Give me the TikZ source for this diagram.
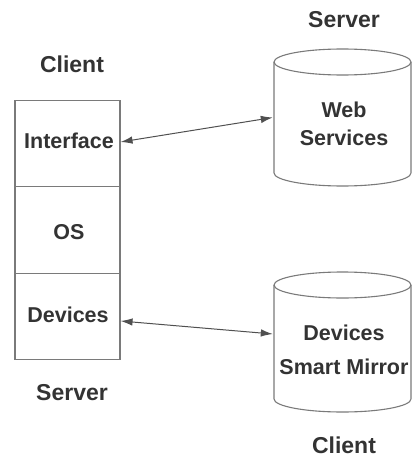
\documentclass[tikz,border=0pt]{standalone}
\usepackage{fontspec}
\setmainfont{Liberation Sans}
\usetikzlibrary{arrows.meta}
\definecolor{txt}{HTML}{333333}
\definecolor{edge}{HTML}{7A7A7A}
\definecolor{conn}{HTML}{505050}
\begin{document}
\begin{tikzpicture}[x=1pt,y=-1pt,
  layer/.style={draw=edge, line width=1.1pt, minimum width=105pt, minimum height=86.5pt, inner sep=0pt},
  body/.style={font=\fontsize{21.5}{25}\selectfont\bfseries, text=txt, inner sep=0pt},
  head/.style={font=\fontsize{23}{27}\selectfont\bfseries, text=txt, inner sep=0pt},
  cylbox/.style={minimum width=137pt, minimum height=137pt, inner sep=0pt},
  cyl/.style={draw=edge, line width=1.1pt},
  link/.style={draw=conn, line width=1pt, {Latex[length=12pt,width=7.5pt]}-{Latex[length=12pt,width=7.5pt]}}]
\useasboundingbox (0,0) rectangle (412,460);
% left stack
\node[layer] (iface) at (67.5,143.5) {};
\node[layer] (os) at (67.5,230) {};
\node[layer] (dev) at (67.5,316.5) {};
\node[body] (tiface) at (69,141) {Interface};
\node[body] (tos) at (69,232) {OS};
\node[body] (tdev) at (68,315) {Devices};
\node[head] (hclient) at (72,64) {Client};
\node[head] (hserver) at (72,393) {Server};
% top cylinder
\draw[cyl] (342.5,62) ellipse [x radius=68.5, y radius=13];
\draw[cyl] (274,62) -- (274,173) arc[start angle=180, end angle=0, x radius=68.5, y radius=13] -- (411,62);
\node[cylbox] (ws) at (342.5,117.5) {};
\node[body] (tweb) at (344,110) {Web};
\node[body] (tsvc) at (344,138) {Services};
\node[head] (hserver2) at (344,20) {Server};
% bottom cylinder
\draw[cyl] (342.5,285) ellipse [x radius=68.5, y radius=13];
\draw[cyl] (274,285) -- (274,399) arc[start angle=180, end angle=0, x radius=68.5, y radius=13] -- (411,285);
\node[cylbox] (dm) at (342.5,342) {};
\node[body] (tdm1) at (344,333) {Devices};
\node[body] (tdm2) at (344,367) {Smart Mirror};
\node[head] (hclient2) at (344,445) {Client};
% connectors
\draw[link] ([yshift=1.5pt]iface.east) -- ([xshift=-1pt]ws.west);
\draw[link] ([yshift=-4.5pt]dev.east) -- ([xshift=-1pt,yshift=8pt]dm.west);
\end{tikzpicture}
\end{document}
